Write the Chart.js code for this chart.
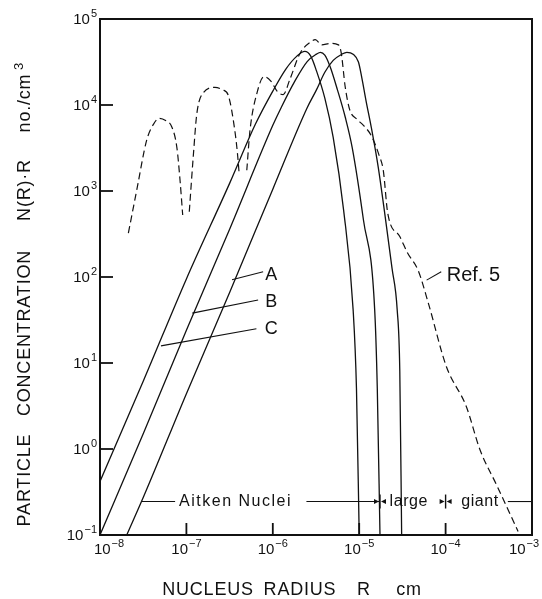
<!DOCTYPE html>
<html>
<head>
<meta charset="utf-8">
<script src="https://cdn.jsdelivr.net/npm/chart.js@4.4.1/dist/chart.umd.min.js"></script>
<style>
  html, body { margin: 0; padding: 0; background: #fff; }
  #wrap { width: 542px; height: 599px; }
</style>
</head>
<body>
<div id="wrap"><canvas id="chart" width="542" height="599"></canvas></div>
<script>
// decades shown on the axes
const xTicks = [1e-8, 1e-7, 1e-6, 1e-5, 1e-4, 1e-3]
const yTicks = [1e-1, 1e0, 1e1, 1e2, 1e3, 1e4, 1e5]

// curve A (rightmost solid)
const aX = [2.04e-8, 3.2e-8, 1.0e-7, 3.2e-7, 1.0e-6, 2.5e-6, 3.2e-6, 4.0e-6, 5.0e-6, 6.3e-6, 7.2e-6, 8.5e-6, 9.8e-6, 1.07e-5, 1.2e-5, 1.38e-5, 1.66e-5, 2.0e-5, 2.4e-5, 2.75e-5, 2.95e-5, 3.1e-5]
const aY = [0.1, 0.28, 4.4, 68, 1050, 9300, 1.5e4, 2.4e4, 3.3e4, 3.9e4, 4.1e4, 3.9e4, 3.16e4, 2.1e4, 1.12e4, 5500, 1900, 500, 126, 42, 8, 0.1]

// curve B (middle solid)
const bX = [1.0e-8, 3.2e-8, 1.0e-7, 3.2e-7, 1.0e-6, 1.26e-6, 1.78e-6, 2.5e-6, 3.2e-6, 3.55e-6, 4.0e-6, 4.6e-6, 5.6e-6, 6.9e-6, 8.3e-6, 1.12e-5, 1.51e-5, 1.62e-5, 1.74e-5]
const bY = [0.1, 1.55, 24, 370, 5800, 9500, 1.86e4, 3.2e4, 3.9e4, 4.1e4, 3.8e4, 2.8e4, 1.5e4, 7200, 3200, 460, 42, 5, 0.1]

// curve C (leftmost solid)
const cX = [1.0e-8, 3.2e-8, 1.0e-7, 3.2e-7, 6.3e-7, 1.0e-6, 1.41e-6, 1.9e-6, 2.35e-6, 2.75e-6, 3.2e-6, 4.0e-6, 5.0e-6, 6.6e-6, 8.5e-6, 9.3e-6, 1.0e-5]
const cY = [0.42, 6.3, 95, 1260, 6000, 1.45e4, 2.6e4, 3.7e4, 4.2e4, 3.7e4, 2.5e4, 1.2e4, 4200, 600, 42, 5, 0.1]

// Ref. 5 (dashed), null = break in the curve
const refX = [2.13e-8, 2.66e-8, 3.47e-8, 4.17e-8, 4.86e-8, 5.75e-8, 6.76e-8, 7.76e-8, 8.43e-8, 9.06e-8, 9.5e-8,
  1.08e-7, 1.2e-7, 1.32e-7, 1.58e-7, 2.14e-7, 2.63e-7, 3.05e-7, 3.63e-7, 3.89e-7, 4.09e-7, 4.5e-7,
  5.0e-7, 5.45e-7, 6.6e-7, 7.9e-7, 9.5e-7, 1.12e-6, 1.32e-6, 1.58e-6, 2.07e-6, 2.8e-6, 3.1e-6, 3.7e-6, 4.6e-6, 5.75e-6, 6.2e-6, 6.9e-6, 7.8e-6, 9.3e-6,
  1.12e-5, 1.38e-5, 1.7e-5, 1.9e-5, 2.14e-5, 2.95e-5, 3.63e-5, 4.8e-5, 6.3e-5, 1.02e-4, 1.74e-4, 2.5e-4, 3.9e-4, 6.9e-4]
const refY = [324, 1020, 3900, 6000, 7000, 6600, 5600, 3200, 1350, 525, null,
  575, 2500, 7900, 1.4e4, 1.6e4, 1.5e4, 1.3e4, 5100, 2800, 1550, null,
  1740, 5100, 1.41e4, 2.14e4, 1.9e4, 1.45e4, 1.32e4, 2.0e4, 4.0e4, 5.5e4, 5.75e4, 5.0e4, 5.2e4, 5.0e4, 4.0e4, 1.6e4, 8700, 6900,
  5800, 4400, 2600, 1740, 550, 295, 190, 120, 50, 9.1, 3.1, 0.98, 0.38, 0.11]

const ink = '#111'
const font = 'Liberation Sans, Arial, sans-serif'

const pts = (xs, ys) => xs.map((x, i) => ({ x: x, y: ys[i] }))

// curve labels with leader lines, in data units
const leaders = [
  { text: 'A', from: [3.37e-7, 93], to: [7.73e-7, 115], at: [9.6e-7, 105], align: 'center' },
  { text: 'B', from: [1.17e-7, 38], to: [6.76e-7, 54], at: [9.6e-7, 51], align: 'center' },
  { text: 'C', from: [5.08e-8, 15.8], to: [6.46e-7, 25], at: [9.6e-7, 25], align: 'center' },
  { text: 'Ref. 5', from: [6.03e-5, 92], to: [8.9e-5, 115], at: [1.03e-4, 105], align: 'left' }
]
const bandY = 0.245

const expLabel = (ctx, v, cx, cy, align) => {
  const e = String(Math.round(Math.log10(v))).replace('-', '\u2212')
  ctx.font = '15px ' + font
  const wb = ctx.measureText('10').width
  ctx.font = '11px ' + font
  const we = ctx.measureText(e).width
  const w = wb + we + 1
  const left = align === 'right' ? cx - w : cx - w / 2
  ctx.textAlign = 'left'
  ctx.textBaseline = 'middle'
  ctx.font = '15px ' + font
  ctx.fillText('10', left, cy)
  ctx.font = '11px ' + font
  ctx.fillText(e, left + wb + 1, cy - 6)
}

const arrowHead = (ctx, tipX, y, dir) => {
  ctx.beginPath()
  ctx.moveTo(tipX, y)
  ctx.lineTo(tipX - dir * 5, y - 2.5)
  ctx.lineTo(tipX - dir * 5, y + 2.5)
  ctx.closePath()
  ctx.fill()
}

const inkPlugin = {
  id: 'ink',
  afterDraw (chart) {
    const { ctx, chartArea: a, scales: { x, y } } = chart
    const px = v => x.getPixelForValue(v)
    const py = v => y.getPixelForValue(v)
    ctx.save()
    ctx.strokeStyle = ink
    ctx.fillStyle = ink

    // frame
    ctx.lineWidth = 2
    ctx.strokeRect(a.left, a.top, a.right - a.left, a.bottom - a.top)

    // inward ticks + labels
    ctx.lineWidth = 1.8
    yTicks.forEach(v => {
      const yy = py(v)
      if (v > yTicks[0] && v < yTicks[yTicks.length - 1]) {
        ctx.beginPath(); ctx.moveTo(a.left, yy); ctx.lineTo(a.left + 13, yy); ctx.stroke()
      }
      expLabel(ctx, v, a.left - 3, yy + 1, 'right')
    })
    xTicks.forEach((v, i) => {
      const xx = px(v)
      if (i > 0 && i < xTicks.length - 1) {
        ctx.beginPath(); ctx.moveTo(xx, a.bottom); ctx.lineTo(xx, a.bottom - 12); ctx.stroke()
      }
      let cx = xx
      if (i === 0) cx += 9
      if (i === xTicks.length - 1) cx -= 8
      expLabel(ctx, v, cx, a.bottom + 15, 'center')
    })

    // curve labels
    ctx.lineWidth = 1.1
    leaders.forEach(l => {
      ctx.beginPath()
      ctx.moveTo(px(l.from[0]), py(l.from[1]))
      ctx.lineTo(px(l.to[0]), py(l.to[1]))
      ctx.stroke()
      ctx.font = (l.text.length > 1 ? '20px ' : '18px ') + font
      ctx.textAlign = l.align
      ctx.textBaseline = 'middle'
      ctx.fillText(l.text, px(l.at[0]), py(l.at[1]))
    })

    // Aitken / large / giant band
    const by = py(bandY)
    const seg = (x0, x1) => { ctx.beginPath(); ctx.moveTo(x0, by); ctx.lineTo(x1, by); ctx.stroke() }
    ctx.lineWidth = 1.1
    seg(px(3.0e-8), px(7.4e-8))
    seg(px(2.45e-6), px(1.74e-5))
    seg(px(5.25e-4), a.right)
    ;[1.74e-5, 1e-4].forEach(v => {
      const xx = px(v)
      ctx.lineWidth = 1.4
      ctx.beginPath(); ctx.moveTo(xx, by - 7); ctx.lineTo(xx, by + 7); ctx.stroke()
      arrowHead(ctx, xx - 1, by, 1)
      arrowHead(ctx, xx + 1, by, -1)
    })
    ctx.textAlign = 'center'
    ctx.textBaseline = 'middle'
    ctx.font = '16px ' + font
    ctx.letterSpacing = '1.5px'
    ctx.fillText('Aitken Nuclei', px(3.7e-7), by)
    ctx.letterSpacing = '0.6px'
    ctx.fillText('large', px(3.75e-5), by)
    ctx.fillText('giant', px(2.5e-4), by)

    // axis titles
    ctx.font = '18px ' + font
    ctx.letterSpacing = '0.8px'
    const xWords = [['NUCLEUS', 208], ['RADIUS', 300], ['R', 364], ['cm', 409]]
    xWords.forEach(w => ctx.fillText(w[0], w[1], 590))

    ctx.translate(25, 0)
    ctx.rotate(-Math.PI / 2)
    const yWords = [['PARTICLE', 480], ['CONCENTRATION', 333], ['N(R)\u00b7R', 190], ['no./cm', 103]]
    yWords.forEach(w => ctx.fillText(w[0], -w[1], 0))
    ctx.font = '13px ' + font
    ctx.fillText('3', -66, -6)
    ctx.restore()
  }
}

const solid = (label, xs, ys) => ({
  label: label,
  data: pts(xs, ys),
  borderColor: ink,
  borderWidth: 1.3,
  pointRadius: 0,
  fill: false,
  cubicInterpolationMode: 'monotone'
})

const chart = new Chart(document.getElementById('chart'), {
  type: 'line',
  data: {
    datasets: [
      solid('A', aX, aY),
      solid('B', bX, bY),
      solid('C', cX, cY),
      Object.assign(solid('Ref. 5', refX, refY), { borderDash: [7, 4], borderWidth: 1.2, spanGaps: false })
    ]
  },
  options: {
    responsive: false,
    animation: false,
    layout: { padding: { left: 0, right: 10, top: 19, bottom: 0 } },
    plugins: { legend: { display: false }, tooltip: { enabled: false } },
    scales: {
      x: {
        type: 'logarithmic',
        min: 1e-8,
        max: 1e-3,
        afterBuildTicks: s => { s.ticks = xTicks.map(v => ({ value: v })) },
        afterFit: s => { s.height = 64 },
        ticks: { display: false },
        grid: { display: false },
        border: { display: false }
      },
      y: {
        type: 'logarithmic',
        min: 1e-1,
        max: 1e5,
        afterBuildTicks: s => { s.ticks = yTicks.map(v => ({ value: v })) },
        afterFit: s => { s.width = 100 },
        ticks: { display: false },
        grid: { display: false },
        border: { display: false }
      }
    }
  },
  plugins: [inkPlugin]
})
</script>
</body>
</html>
